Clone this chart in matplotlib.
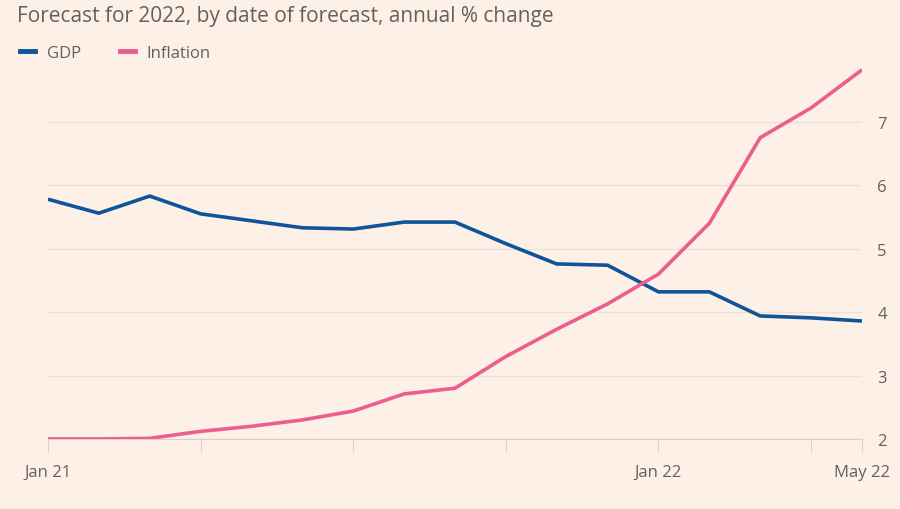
import matplotlib.pyplot as plt
from matplotlib.lines import Line2D

plt.rcParams['font.family'] = ['Open Sans', 'DejaVu Sans']

# Monthly forecasts, Jan 21 .. May 22
months = ["Jan 21", "Feb 21", "Mar 21", "Apr 21", "May 21", "Jun 21", "Jul 21", "Aug 21",
          "Sep 21", "Oct 21", "Nov 21", "Dec 21", "Jan 22", "Feb 22", "Mar 22", "Apr 22", "May 22"]
gdp = [5.78, 5.56, 5.83, 5.55, 5.44, 5.33, 5.31, 5.42, 5.42, 5.08, 4.76, 4.74,
       4.32, 4.32, 3.94, 3.91, 3.86]
inflation = [2.0, 2.0, 2.01, 2.12, 2.2, 2.3, 2.44, 2.71, 2.8, 3.3, 3.73, 4.13,
             4.6, 5.4, 6.75, 7.22, 7.82]
yticks = [2, 3, 4, 5, 6, 7]
xtick_idx = [0, 3, 6, 9, 12, 15, 16]
xtick_labels = ["Jan 21", "", "", "", "Jan 22", "", "May 22"]

bg = "#fdf0e7"
blue = "#0f5499"
pink = "#ea5f8e"
text_col = "#66605c"

fig = plt.figure(figsize=(9, 5.1), dpi=100, facecolor=bg)
ax = fig.add_axes([0.0533, 0.1373, 0.9044, 0.7275])
ax.set_facecolor(bg)

x = list(range(len(months)))
ax.plot(x, gdp, color=blue, lw=2.6, solid_capstyle="butt", zorder=3)
ax.plot(x, inflation, color=pink, lw=2.6, solid_capstyle="butt", zorder=3)

ax.set_xlim(0, len(months) - 1)
ax.set_ylim(2, 7.85)
ax.yaxis.tick_right()
ax.set_yticks(yticks)
ax.set_yticklabels([str(v) for v in yticks])
ax.tick_params(axis="y", length=0, pad=11, labelsize=12, labelcolor=text_col)
ax.grid(axis="y", color="#ede1d7", lw=0.9, zorder=0)

ax.set_xticks(xtick_idx)
ax.set_xticklabels(xtick_labels)
ax.tick_params(axis="x", length=9, width=0.8, color="#ddd0c5", pad=9,
               labelsize=12, labelcolor=text_col)

for side in ["top", "left", "right"]:
    ax.spines[side].set_visible(False)
ax.spines["bottom"].set_color("#ddd0c5")
ax.spines["bottom"].set_linewidth(0.9)

fig.text(0.019, 0.988, "Forecast for 2022, by date of forecast, annual % change",
         fontsize=15, color=text_col, va="top", ha="left")

handles = [Line2D([], [], color=blue, lw=3.5), Line2D([], [], color=pink, lw=3.5)]
leg = fig.legend(handles, ["GDP", "Inflation"], loc="upper left", bbox_to_anchor=(0.006, 0.94),
                 ncol=2, frameon=False, fontsize=12, handlelength=0.9, handletextpad=0.7,
                 columnspacing=2.3, labelcolor=text_col)

fig.savefig("out.png", dpi=100, facecolor=bg)
